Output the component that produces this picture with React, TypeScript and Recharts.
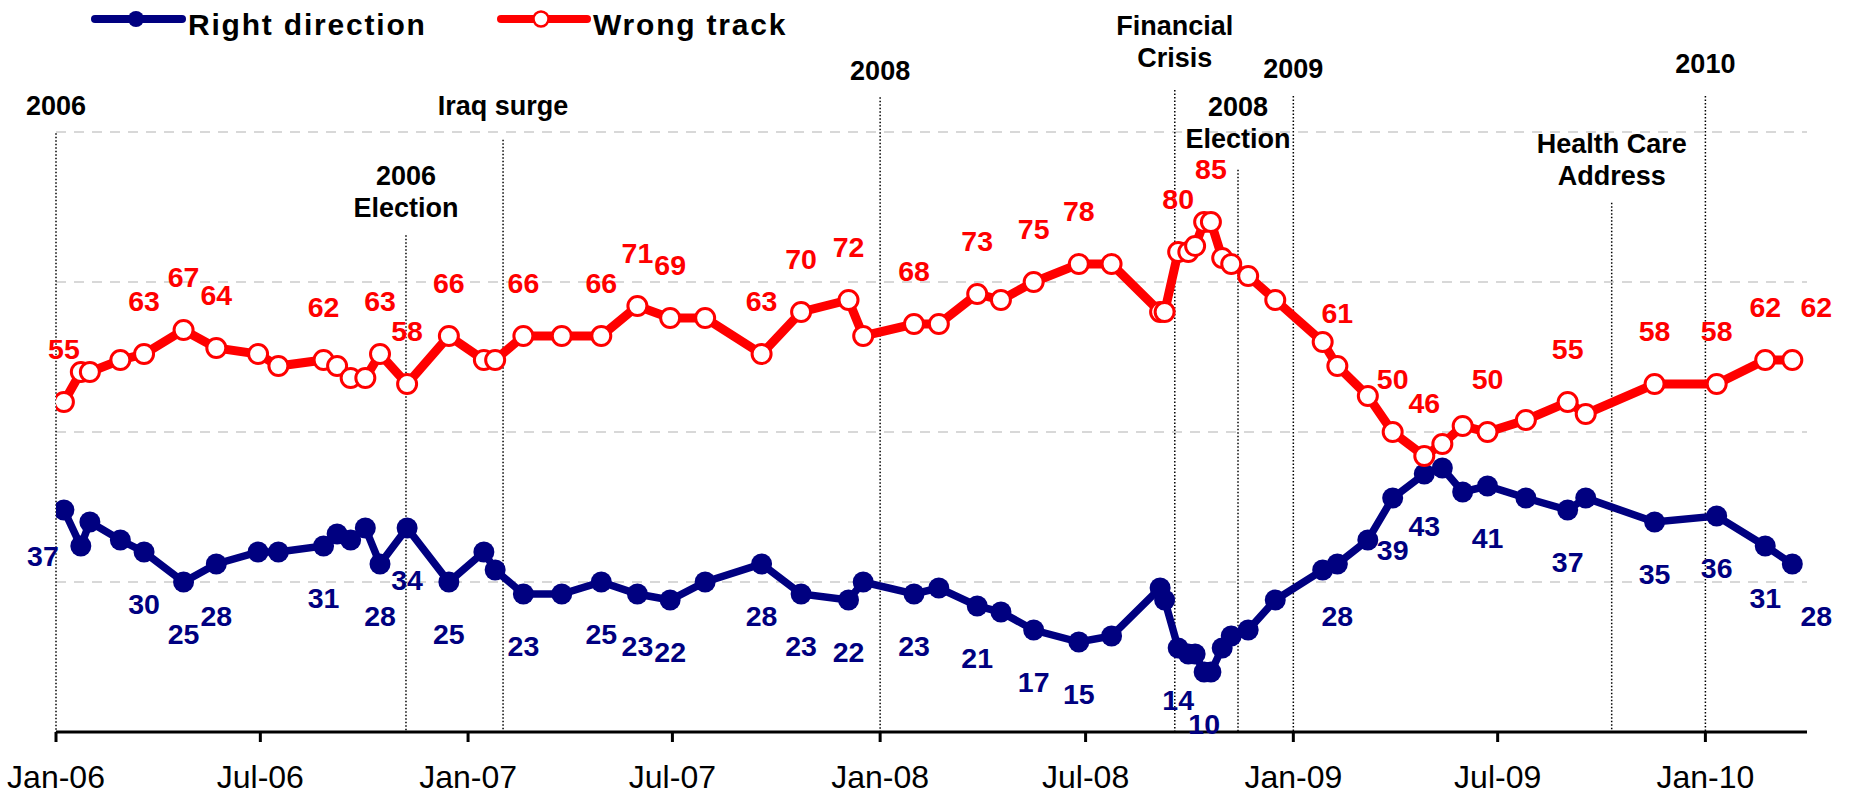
import React from 'react';
import { LineChart, Line, XAxis, YAxis, CartesianGrid, ReferenceLine } from 'recharts';

const FONT = '"Liberation Sans", Arial, Helvetica, sans-serif';
const NAVY = '#000080';
const RED = '#ff0000';

// poll dates
const DATES = [
  '2006-01-08', '2006-01-23', '2006-01-31', '2006-02-27', '2006-03-20', '2006-04-24', '2006-05-23', '2006-06-29',
  '2006-07-17', '2006-08-26', '2006-09-07', '2006-09-19', '2006-10-02', '2006-10-15', '2006-11-08', '2006-12-15',
  '2007-01-15', '2007-01-25', '2007-02-19', '2007-03-25', '2007-04-29', '2007-05-31', '2007-06-29', '2007-07-30',
  '2007-09-18', '2007-10-23', '2007-12-04', '2007-12-17', '2008-01-31', '2008-02-22', '2008-03-27', '2008-04-17',
  '2008-05-16', '2008-06-25', '2008-07-24', '2008-09-05', '2008-09-09', '2008-09-21', '2008-09-30', '2008-10-06',
  '2008-10-14', '2008-10-20', '2008-10-30', '2008-11-07', '2008-11-22', '2008-12-16', '2009-01-27', '2009-02-09',
  '2009-03-08', '2009-03-30', '2009-04-27', '2009-05-13', '2009-05-31', '2009-06-22', '2009-07-26', '2009-09-01',
  '2009-09-17', '2009-11-17', '2010-01-11', '2010-02-23', '2010-03-19',
];

const RIGHT_DIRECTION = [
  37, 31, 35, 32, 30, 25, 28, 30, 30, 31,
  33, 32, 34, 28, 34, 25, 30, 27, 23, 23,
  25, 23, 22, 25, 28, 23, 22, 25, 23, 24,
  21, 20, 17, 15, 16, 24, 22, 14, 13, 13,
  10, 10, 14, 16, 17, 22, 27, 28, 32, 39,
  43, 44, 40, 41, 39, 37, 39, 35, 36, 31, 28,
];

const WRONG_TRACK = [
  55, 60, 60, 62, 63, 67, 64, 63, 61, 62,
  61, 59, 59, 63, 58, 66, 62, 62, 66, 66,
  66, 71, 69, 69, 63, 70, 72, 66, 68, 68,
  73, 72, 75, 78, 78, 70, 70, 80, 80, 81,
  85, 85, 79, 78, 76, 72, 65, 61, 56, 50,
  46, 48, 51, 50, 52, 55, 53, 58, 58, 62, 62,
];

// which points carry a value label
const RIGHT_LABELLED = [0, 4, 5, 6, 9, 13, 14, 15, 18, 20, 21, 22, 24, 25, 26, 28, 30, 32, 33, 37, 40, 47, 49, 50, 53, 55, 57, 58, 59, 60];
const WRONG_LABELLED = [0, 4, 5, 6, 9, 13, 14, 15, 18, 20, 21, 22, 24, 25, 26, 28, 30, 32, 33, 37, 41, 47, 49, 50, 53, 55, 57, 58, 59, 60];

const TICK_DATES = [
  '2006-01-01', '2006-07-01', '2007-01-01', '2007-07-01', '2008-01-01',
  '2008-07-01', '2009-01-01', '2009-07-01', '2010-01-01',
];
const DOMAIN_DATES = ['2006-01-01', '2010-04-01'];

const EVENT_DATES = [
  '2006-01-01', '2007-02-01', '2006-11-07', '2008-01-01', '2008-09-18',
  '2008-11-13', '2009-01-01', '2009-10-10', '2010-01-01',
];
const EVENT_TEXT = [
  ['2006'], ['Iraq surge'], ['2006', 'Election'], ['2008'], ['Financial', 'Crisis'],
  ['2008', 'Election'], ['2009'], ['Health Care', 'Address'], ['2010'],
];

// layout: where each dotted event line starts (axis units, >100 sits above the plot)
// and the gap in px between that start and the label's last baseline
const EVENT_TOP = [99.8, 98.7, 82.8, 105.8, 107, 93.7, 106, 88.2, 106];
const EVENT_GAP = [18, 25, 18, 17, 23, 22, 18, 18, 23];

const MONTHS = ['Jan', 'Feb', 'Mar', 'Apr', 'May', 'Jun', 'Jul', 'Aug', 'Sep', 'Oct', 'Nov', 'Dec'];
const ts = (d: string) => Date.parse(d + 'T00:00:00Z');
const fmtTick = (v: number) => {
  const d = new Date(v);
  return `${MONTHS[d.getUTCMonth()]}-${String(d.getUTCFullYear()).slice(2)}`;
};

const data = DATES.map((d, i) => ({ t: ts(d), right: RIGHT_DIRECTION[i], wrong: WRONG_TRACK[i] }));

const makeLabel = (color: string, labelled: number[], above: boolean) => (props: any) => {
  const { x, y, value, index } = props;
  if (!labelled.includes(index)) return null;
  const last = index === DATES.length - 1;
  let dx = last ? 24 : 0;
  let ty = above ? y - 43 : y + 62;
  // first "Right direction" label sits to the left of its point
  if (!above && index === 0) {
    dx = -21;
    ty = y + 56;
  }
  return (
    <text
      x={x + dx}
      y={ty}
      textAnchor="middle"
      fill={color}
      fontSize={28.5}
      fontWeight="bold"
      fontFamily={FONT}
    >
      {value}
    </text>
  );
};

const eventLabel = (lines: string[], gap: number) => (props: any) => {
  const { viewBox } = props;
  const x = viewBox.x;
  const y0 = viewBox.y - gap - (lines.length - 1) * 32;
  return (
    <text x={x} y={y0} textAnchor="middle" fill="#000" fontSize={27} fontWeight="bold" fontFamily={FONT}>
      {lines.map((l, i) => (
        <tspan key={i} x={x} dy={i === 0 ? 0 : 32}>{l}</tspan>
      ))}
    </text>
  );
};

const Legend = () => (
  <svg width={900} height={60} style={{ position: 'absolute', left: 0, top: 0 }}>
    <line x1={95} y1={19} x2={182} y2={19} stroke={NAVY} strokeWidth={8} strokeLinecap="round" />
    <circle cx={136} cy={19} r={8} fill={NAVY} />
    <text x={188} y={35} fontSize={30} fontWeight="bold" fontFamily={FONT} letterSpacing={1.8} fill="#000">
      Right direction
    </text>
    <line x1={501} y1={19} x2={587} y2={19} stroke={RED} strokeWidth={8} strokeLinecap="round" />
    <circle cx={541} cy={19} r={7.5} fill="#fff" stroke={RED} strokeWidth={2.5} />
    <text x={593} y={35} fontSize={30} fontWeight="bold" fontFamily={FONT} letterSpacing={1.8} fill="#000">
      Wrong track
    </text>
  </svg>
);

export default function App() {
  return (
    <div style={{ position: 'absolute', left: 0, top: 0, width: 1849, height: 797, background: '#fff' }}>
      <LineChart width={1849} height={797} data={data} margin={{ top: 132, right: 42, bottom: 0, left: 56 }}>
        <CartesianGrid vertical={false} stroke="#cccccc" strokeWidth={1.5} strokeDasharray="10 8" />
        <YAxis hide domain={[0, 100]} ticks={[0, 25, 50, 75, 100]} />
        <XAxis
          type="number"
          dataKey="t"
          domain={DOMAIN_DATES.map(ts)}
          ticks={TICK_DATES.map(ts)}
          tickFormatter={fmtTick}
          interval={0}
          allowDataOverflow
          height={65}
          tickSize={10}
          tickMargin={23}
          axisLine={{ stroke: '#000', strokeWidth: 3 }}
          tickLine={{ stroke: '#000', strokeWidth: 3 }}
          tick={{ fill: '#000', fontSize: 32, fontFamily: FONT }}
        />
        {EVENT_DATES.map((d, i) => (
          <ReferenceLine
            key={d + i}
            segment={[{ x: ts(d), y: EVENT_TOP[i] }, { x: ts(d), y: 0 }]}
            ifOverflow="visible"
            stroke="#000"
            strokeWidth={1.5}
            strokeDasharray="1.5 2"
            label={eventLabel(EVENT_TEXT[i], EVENT_GAP[i])}
          />
        ))}
        <Line
          type="linear"
          dataKey="right"
          stroke={NAVY}
          strokeWidth={7.5}
          dot={{ r: 10.5, fill: NAVY, stroke: NAVY, strokeWidth: 0 }}
          activeDot={false}
          isAnimationActive={false}
          label={makeLabel(NAVY, RIGHT_LABELLED, false)}
        />
        <Line
          type="linear"
          dataKey="wrong"
          stroke={RED}
          strokeWidth={9}
          dot={{ r: 9.5, fill: '#fff', stroke: RED, strokeWidth: 3 }}
          activeDot={false}
          isAnimationActive={false}
          label={makeLabel(RED, WRONG_LABELLED, true)}
        />
      </LineChart>
      <Legend />
    </div>
  );
}
